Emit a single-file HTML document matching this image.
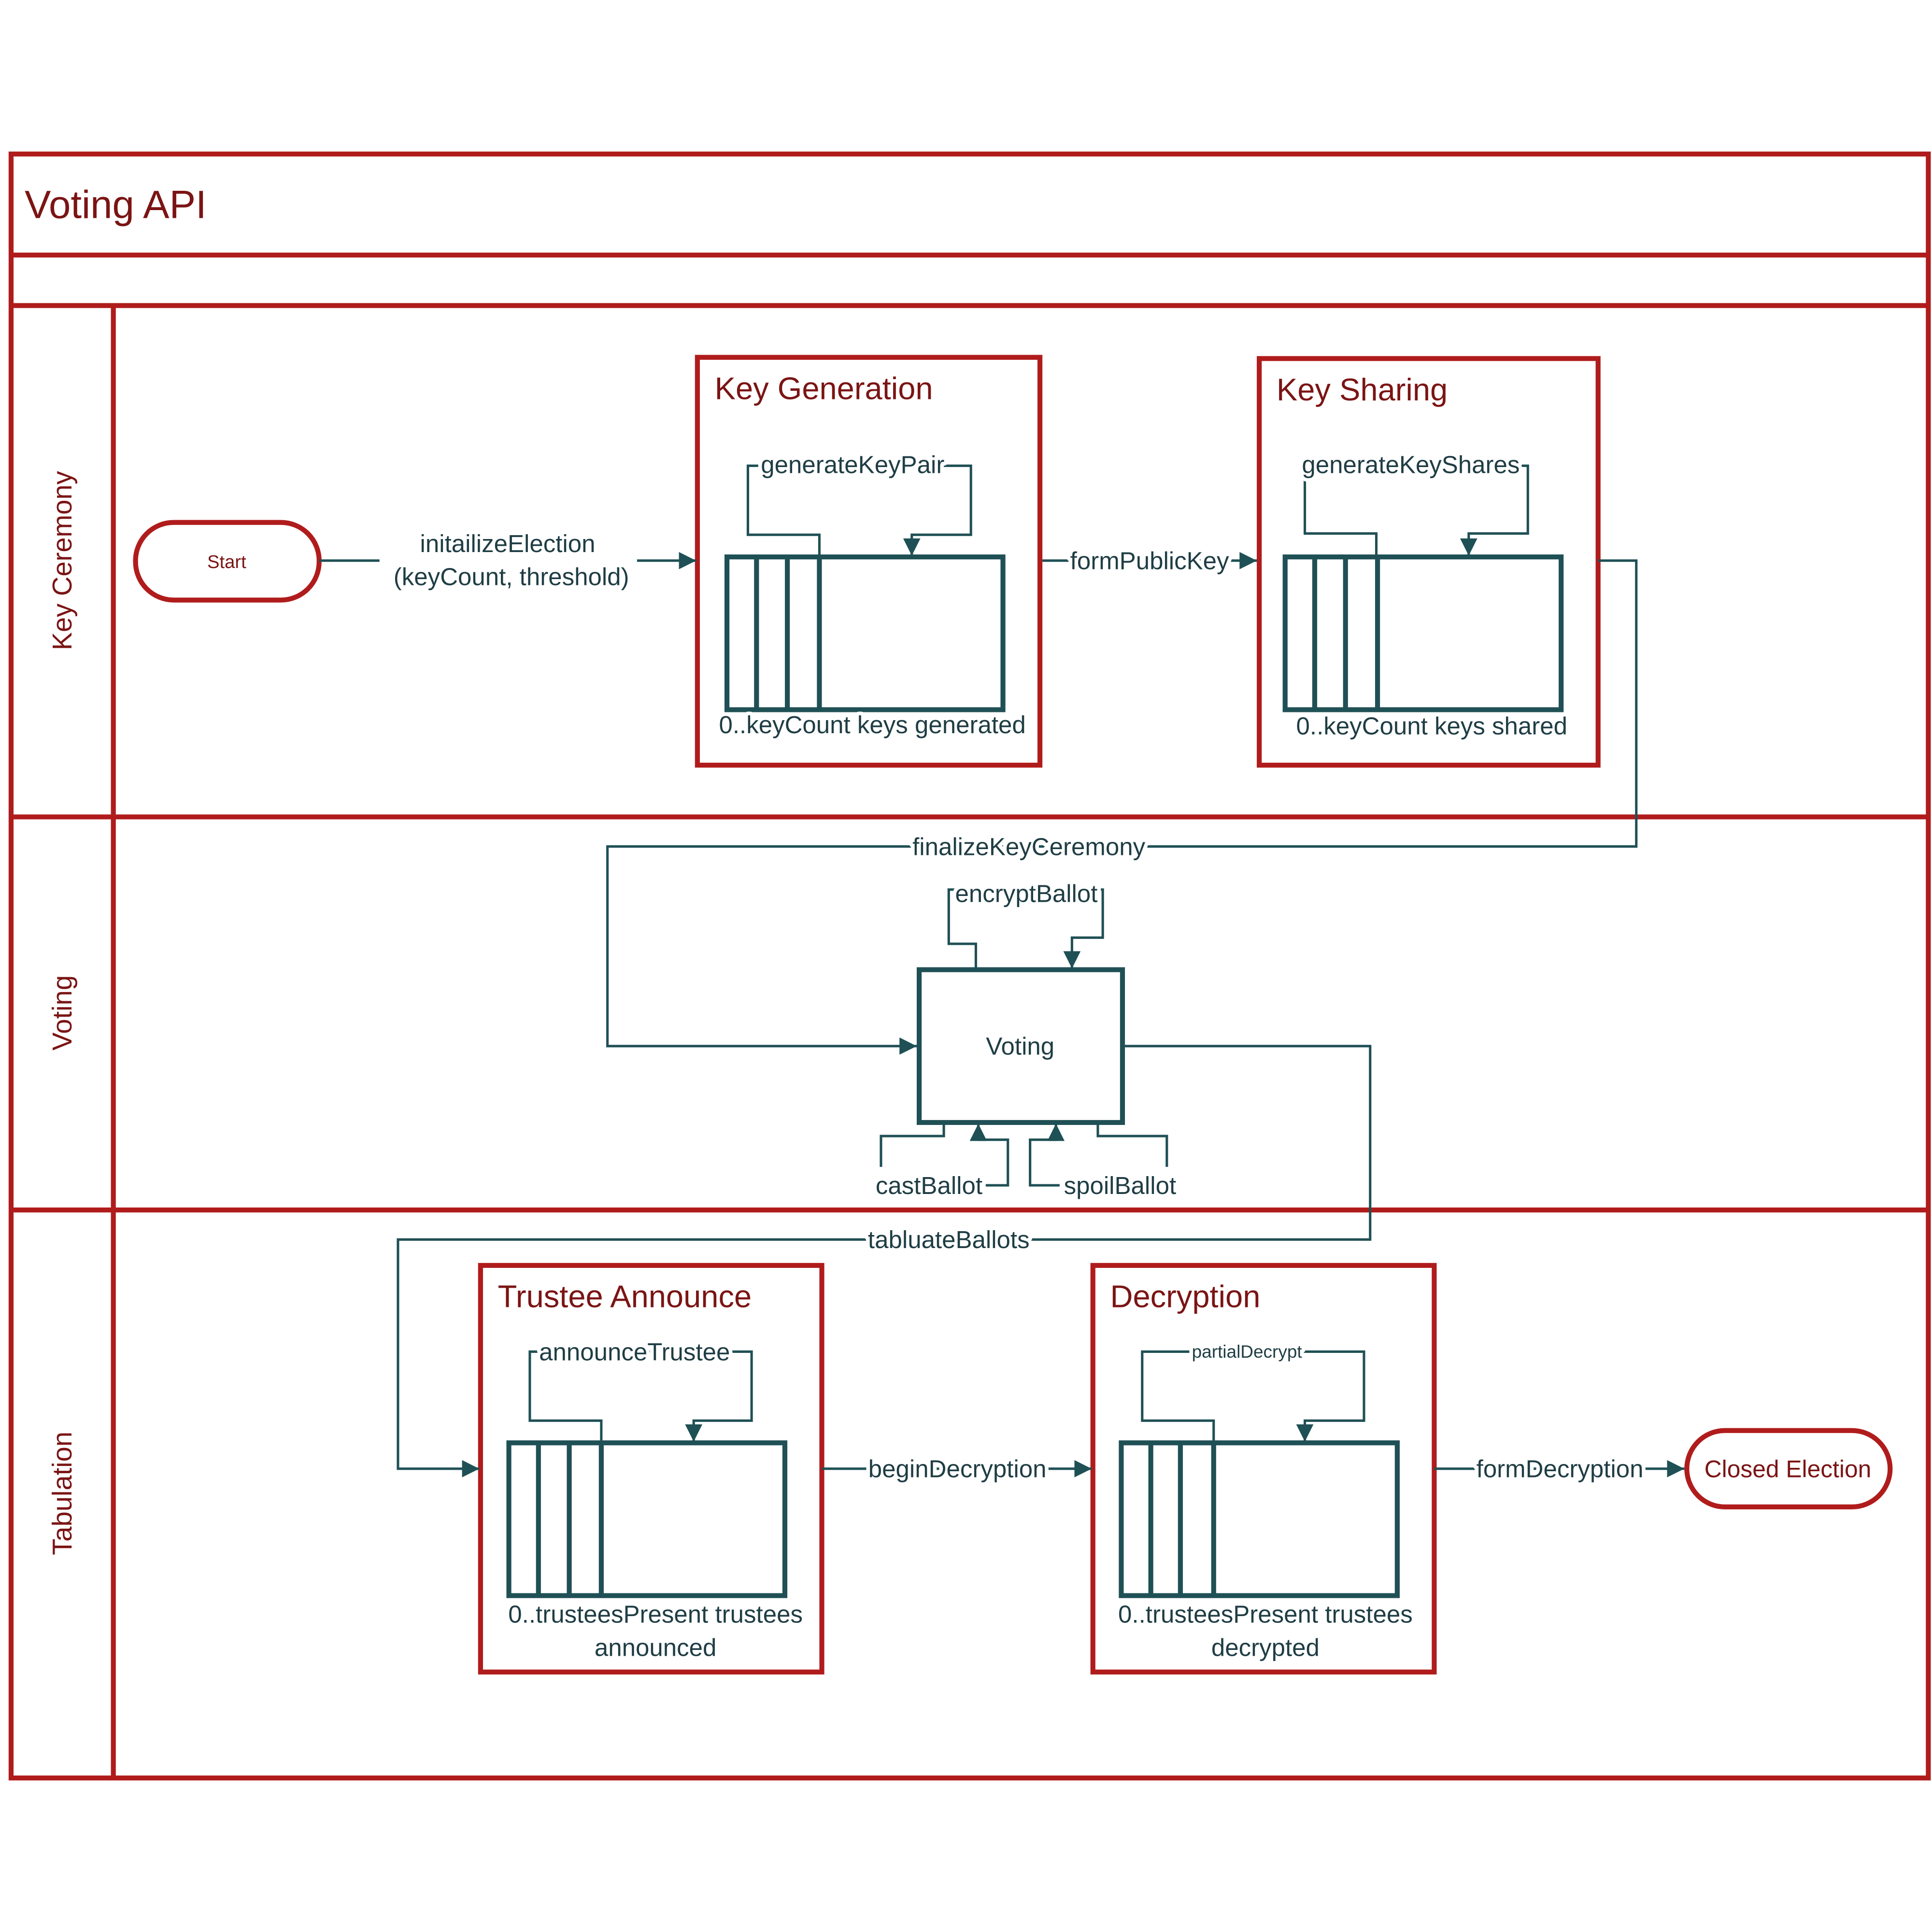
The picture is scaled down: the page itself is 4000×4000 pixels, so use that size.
<!DOCTYPE html>
<html><head><meta charset="utf-8"><style>html,body{margin:0;padding:0;background:#fff}svg{display:block}</style></head>
<body>
<svg width="4000" height="4000" viewBox="0 0 1568 1568" xmlns="http://www.w3.org/2000/svg" font-family="'Liberation Sans', sans-serif">
<defs>
<marker id="b" viewBox="0 0 10 10" refX="10" refY="5" markerWidth="16" markerHeight="14" orient="auto" markerUnits="userSpaceOnUse"><path d="M0,0L10,5L0,10z" fill="#1F5055"/></marker>
</defs>
<rect width="1568" height="1568" fill="#fff"/>
<g fill="none" stroke="#B01C1C" stroke-width="4">
<rect x="9" y="125" width="1556" height="1318"/>
<line x1="9" y1="207" x2="1565" y2="207"/>
<line x1="9" y1="248" x2="1565" y2="248"/>
<line x1="92" y1="248" x2="92" y2="1443"/>
<line x1="9" y1="663" x2="1565" y2="663"/>
<line x1="9" y1="982" x2="1565" y2="982"/>
<rect x="566" y="290" width="278" height="331"/>
<rect x="1022" y="291" width="275" height="330"/>
<rect x="390" y="1027" width="277" height="330"/>
<rect x="887" y="1027" width="277" height="330"/>
<rect x="110" y="424" width="149" height="63" rx="31"/>
<rect x="1369" y="1161" width="165" height="62" rx="31"/>
</g>
<g fill="#7B1414">
<text x="20" y="177" font-size="32">Voting API</text>
<text x="580" y="324" font-size="25.5">Key Generation</text>
<text x="1036" y="325" font-size="25.5">Key Sharing</text>
<text x="404" y="1061" font-size="25.5">Trustee Announce</text>
<text x="901" y="1061" font-size="25.5">Decryption</text>
<text x="184" y="461" font-size="15" text-anchor="middle">Start</text>
<text x="1451" y="1199" font-size="19.5" text-anchor="middle">Closed Election</text>
<g font-size="22" text-anchor="middle">
<text transform="translate(58,455) rotate(-90)">Key Ceremony</text>
<text transform="translate(58,822) rotate(-90)">Voting</text>
<text transform="translate(58,1212) rotate(-90)">Tabulation</text>
</g>
</g>
<g fill="none" stroke="#1F5055" stroke-width="4">
<rect x="590" y="452" width="224" height="124"/><path d="M614 452V576M639 452V576M665 452V576"/>
<rect x="1043" y="452" width="224" height="124"/><path d="M1067 452V576M1092 452V576M1118 452V576"/>
<rect x="746" y="787" width="165" height="124"/>
<rect x="413" y="1171" width="224" height="124"/><path d="M437 1171V1295M462 1171V1295M488 1171V1295"/>
<rect x="910" y="1171" width="224" height="124"/><path d="M934 1171V1295M958 1171V1295M985 1171V1295"/>
</g>
<g fill="none" stroke="#1F5055" stroke-width="2">
<path d="M259 455H308"/><path d="M517 455H565" marker-end="url(#b)"/>
<path d="M665 452V434H607V378H788V434H740V451" marker-end="url(#b)"/>
<path d="M846 455H1020" marker-end="url(#b)"/>
<path d="M1117 452V433H1059V378H1240V433H1192V451" marker-end="url(#b)"/>
<path d="M1297 455H1328V687H493V849H744" marker-end="url(#b)"/>
<path d="M792 787V766H770V722H895V761H870V786" marker-end="url(#b)"/>
<path d="M766 911V922H715V947"/><path d="M800 962H818V925H794V912" marker-end="url(#b)"/>
<path d="M891 911V922H947V947"/><path d="M860 962H836V925H857V912" marker-end="url(#b)"/>
<path d="M911 849H1112V1006H323V1192H389" marker-end="url(#b)"/>
<path d="M488 1171V1153H430V1097H610V1153H563V1170" marker-end="url(#b)"/>
<path d="M667 1192H886" marker-end="url(#b)"/>
<path d="M985 1171V1153H927V1097H1107V1153H1059V1170" marker-end="url(#b)"/>
<path d="M1164 1192H1367" marker-end="url(#b)"/>
</g>
<g fill="#1F3D44" font-size="20" text-anchor="middle" stroke="#fff" stroke-width="6" paint-order="stroke" stroke-linejoin="round">
<text x="412" y="448">initailizeElection</text>
<text x="415" y="475">(keyCount, threshold)</text>
<text x="692" y="384">generateKeyPair</text>
<text x="708" y="595">0..keyCount keys generated</text>
<text x="933" y="462">formPublicKey</text>
<text x="1145" y="384">generateKeyShares</text>
<text x="1162" y="596">0..keyCount keys shared</text>
<text x="835" y="694">finalizeKeyCeremony</text>
<text x="833" y="732">encryptBallot</text>
<text x="828" y="856">Voting</text>
<text x="754" y="969">castBallot</text>
<text x="909" y="969">spoilBallot</text>
<text x="770" y="1013">tabluateBallots</text>
<text x="515" y="1104">announceTrustee</text>
<text x="532" y="1317">0..trusteesPresent trustees</text>
<text x="532" y="1344">announced</text>
<text x="777" y="1199">beginDecryption</text>
<text x="1012" y="1102" font-size="14.5">partialDecrypt</text>
<text x="1027" y="1317">0..trusteesPresent trustees</text>
<text x="1027" y="1344">decrypted</text>
<text x="1266" y="1199">formDecryption</text>
</g>
</svg>
</body></html>
